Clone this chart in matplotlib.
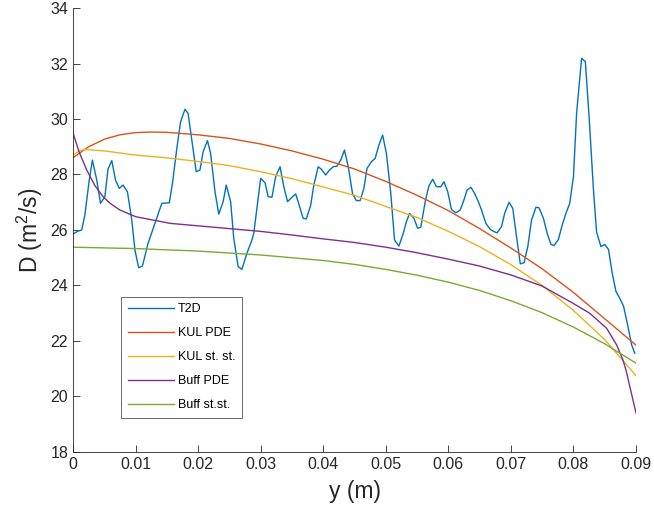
import matplotlib
matplotlib.use("Agg")
import matplotlib.pyplot as plt

t2d_y = [0.0, 0.0007, 0.0014, 0.0019, 0.0026, 0.0031, 0.0038, 0.0044, 0.0051, 0.0056,
         0.0062, 0.0068, 0.0074, 0.0080, 0.0087, 0.0094, 0.0099, 0.0105, 0.0111, 0.0120,
         0.0131, 0.0142, 0.0154, 0.0159, 0.0166, 0.0172, 0.0179, 0.0184, 0.0190, 0.0197,
         0.0203, 0.0208, 0.0215, 0.0220, 0.0227, 0.0233, 0.0240, 0.0245, 0.0252, 0.0257,
         0.0264, 0.0270, 0.0278, 0.0286, 0.0289, 0.0295, 0.0300, 0.0307, 0.0312, 0.0318,
         0.0324, 0.0331, 0.0337, 0.0343, 0.0350, 0.0356, 0.0363, 0.0368, 0.0373, 0.0380,
         0.0385, 0.0392, 0.0397, 0.0404, 0.0410, 0.0416, 0.0422, 0.0428, 0.0434, 0.0440,
         0.0447, 0.0453, 0.0459, 0.0465, 0.0470, 0.0477, 0.0483, 0.0489, 0.0495, 0.0501,
         0.0508, 0.0514, 0.0521, 0.0528, 0.0533, 0.0538, 0.0545, 0.0551, 0.0556, 0.0563,
         0.0569, 0.0575, 0.0581, 0.0588, 0.0593, 0.0599, 0.0605, 0.0612, 0.0619, 0.0624,
         0.0630, 0.0636, 0.0642, 0.0648, 0.0653, 0.0660, 0.0667, 0.0673, 0.0678, 0.0685,
         0.0690, 0.0697, 0.0703, 0.0709, 0.0715, 0.0721, 0.0727, 0.0733, 0.0740, 0.0745,
         0.0752, 0.0758, 0.0764, 0.0769, 0.0776, 0.0782, 0.0788, 0.0794, 0.0800, 0.0805,
         0.0813, 0.0819, 0.0825, 0.0832, 0.0837, 0.0844, 0.0850, 0.0856, 0.0862, 0.0868,
         0.0874, 0.0880, 0.0886, 0.0893, 0.0898]
t2d_D = [25.85, 25.95, 26.0, 26.54, 27.8, 28.52, 27.8, 26.96, 27.2, 28.2,
         28.5, 27.8, 27.5, 27.62, 27.38, 26.36, 25.28, 24.64, 24.7, 25.52,
         26.24, 26.96, 26.98, 27.68, 28.94, 29.9, 30.35, 30.2, 29.24, 28.1,
         28.16, 28.82, 29.22, 28.76, 27.38, 26.57, 27.02, 27.62, 27.02, 25.7,
         24.68, 24.58, 25.16, 25.64, 25.88, 26.96, 27.86, 27.7, 27.2, 27.18,
         27.92, 28.28, 27.56, 27.02, 27.18, 27.3, 26.78, 26.42, 26.4, 26.9,
         27.62, 28.28, 28.19, 27.98, 28.16, 28.28, 28.3, 28.52, 28.88, 28.28,
         27.29, 27.06, 27.06, 27.5, 28.22, 28.46, 28.58, 29.06, 29.42, 28.76,
         27.32, 25.64, 25.42, 25.88, 26.3, 26.6, 26.42, 26.06, 26.1, 27.02,
         27.59, 27.83, 27.56, 27.56, 27.74, 27.38, 26.74, 26.62, 26.72, 27.02,
         27.44, 27.54, 27.32, 27.02, 26.72, 26.24, 26.02, 25.94, 25.9, 26.12,
         26.6, 27.0, 26.78, 25.76, 24.78, 24.82, 25.4, 26.36, 26.82, 26.8,
         26.42, 25.88, 25.48, 25.44, 25.66, 26.18, 26.6, 26.96, 27.92, 30.2,
         32.19, 32.07, 30.08, 27.44, 25.92, 25.4, 25.48, 25.3, 24.44, 23.78,
         23.54, 23.26, 22.64, 21.86, 21.56]

# model curves
kul_pde_y = [0.0, 0.0025, 0.005, 0.0075, 0.010, 0.0125, 0.015, 0.020, 0.025, 0.030, 0.035,
             0.040, 0.045, 0.050, 0.055, 0.060, 0.065, 0.070, 0.075, 0.080, 0.085, 0.090]
kul_pde_D = [28.6, 29.0, 29.27, 29.43, 29.51, 29.53, 29.52, 29.43, 29.3, 29.1, 28.85,
             28.55, 28.2, 27.75, 27.25, 26.7, 26.05, 25.35, 24.6, 23.75, 22.8, 21.85]

kul_ss_y = [0.0, 0.001, 0.002, 0.005, 0.010, 0.015, 0.020, 0.025, 0.030, 0.035, 0.040,
            0.045, 0.050, 0.055, 0.060, 0.065, 0.070, 0.075, 0.080, 0.085, 0.090]
kul_ss_D = [28.7, 28.85, 28.9, 28.85, 28.7, 28.6, 28.47, 28.32, 28.1, 27.85, 27.55,
            27.25, 26.85, 26.45, 25.95, 25.4, 24.75, 24.0, 23.1, 22.05, 20.75]

buff_pde_y = [0.0, 0.001, 0.0022, 0.0035, 0.0048, 0.006, 0.0075, 0.010, 0.0155, 0.020,
              0.025, 0.030, 0.035, 0.040, 0.045, 0.050, 0.055, 0.060, 0.065, 0.070,
              0.075, 0.080, 0.0826, 0.0853, 0.0869, 0.0879, 0.0884, 0.090]
buff_pde_D = [29.5, 28.8, 28.16, 27.6, 27.2, 26.95, 26.72, 26.48, 26.24, 26.15,
              26.05, 25.95, 25.82, 25.68, 25.55, 25.38, 25.18, 24.95, 24.7, 24.38,
              23.98, 23.35, 23.0, 22.46, 21.86, 21.32, 20.95, 19.4]

buff_ss_y = [0.0, 0.010, 0.020, 0.030, 0.040, 0.045, 0.050, 0.055, 0.060, 0.065,
             0.070, 0.075, 0.080, 0.085, 0.090]
buff_ss_D = [25.38, 25.33, 25.24, 25.1, 24.9, 24.76, 24.58, 24.37, 24.12, 23.82,
             23.45, 23.02, 22.5, 21.9, 21.2]

labels = ["T2D", "KUL PDE", "KUL st. st.", "Buff PDE", "Buff st.st."]
colors = ["#0072BD", "#D95319", "#EDB120", "#7E2F8E", "#77AC30"]

plt.rcParams['font.family'] = ['Liberation Sans', 'DejaVu Sans']
plt.rcParams['mathtext.fontset'] = 'custom'
plt.rcParams['mathtext.rm'] = 'Liberation Sans'

fig = plt.figure(figsize=(6.54, 5.2), dpi=100)
ax = fig.add_axes([0.1116, 0.1308, 0.8609, 0.8538])

series = [(t2d_y, t2d_D), (kul_pde_y, kul_pde_D), (kul_ss_y, kul_ss_D),
          (buff_pde_y, buff_pde_D), (buff_ss_y, buff_ss_D)]
for (xs, ys), lab, c in zip(series, labels, colors):
    ax.plot(xs, ys, color=c, lw=1.0, label=lab)

ax.set_xlim(0, 0.09)
ax.set_ylim(18, 34)
ax.set_xticks([i / 100 for i in range(10)])
ax.set_xticklabels(["0"] + ["0.0%d" % i for i in range(1, 10)])
ax.set_yticks(range(18, 35, 2))
ax.tick_params(direction='in', colors='#262626', labelsize=11.5, length=5, width=0.6)
for s in ['top', 'right']:
    ax.spines[s].set_visible(False)
for s in ['left', 'bottom']:
    ax.spines[s].set_color('#262626')
    ax.spines[s].set_linewidth(0.6)

ax.set_xlabel("y (m)", fontsize=16.5, color='#262626', labelpad=6)
ax.set_ylabel("D (m$\\mathregular{^2}$/s)", fontsize=16.5, color='#262626')

leg = ax.legend(loc='lower left', bbox_to_anchor=(0.085, 0.077), borderaxespad=0,
                fancybox=False, edgecolor='#262626', fontsize=9, handlelength=3.7,
                labelspacing=0.95, borderpad=0.55, handletextpad=0.3)
leg.get_frame().set_linewidth(0.6)

fig.savefig("out.png", dpi=100)
